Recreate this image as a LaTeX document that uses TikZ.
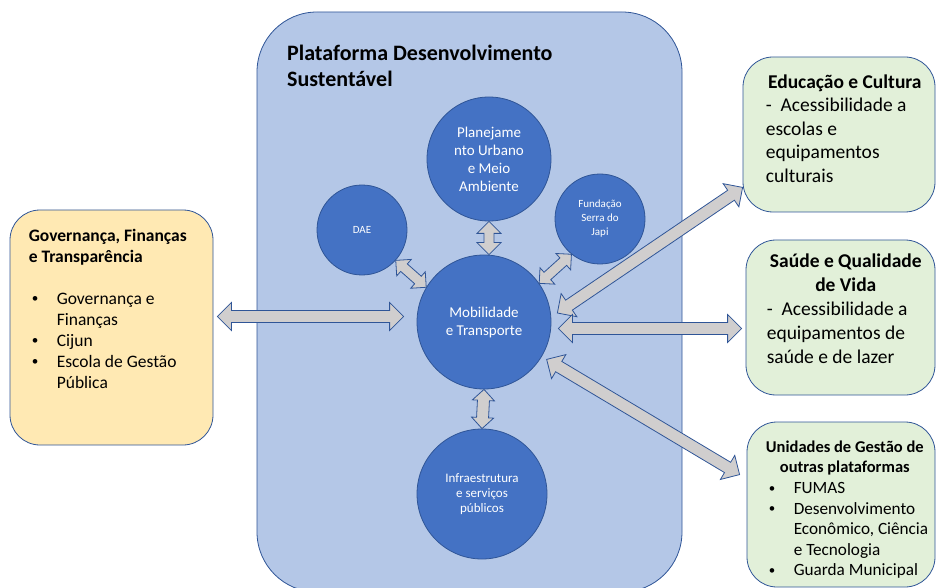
\documentclass[tikz,border=0pt]{standalone}
\usepackage{graphicx}
\usepackage{fontspec}
\setmainfont{Carlito}
\usetikzlibrary{positioning,calc}

\definecolor{platfill}{HTML}{B4C7E7}
\definecolor{circfill}{HTML}{4472C4}
\definecolor{edge}{HTML}{2F5597}
\definecolor{govfill}{HTML}{FFE9B3}
\definecolor{unitfill}{HTML}{E2F0D9}
\definecolor{arrfill}{HTML}{D0CECE}

% bullet lines in the text boxes
\newcommand{\bitem}{\hspace*{3pt}\makebox[25pt][l]{\raisebox{1.2pt}{\scalebox{0.75}{\textbullet}}}}
\newcommand{\bcont}{\hspace*{28pt}}

% double block arrow from #1 to #2, #3 = head half width (and head length), #4 = shaft half width
\newcommand{\dblarrow}[4]{%
  \draw[blockarrow] (#1)
    -- ($(#1)!#3!(#2)!#3!90:(#2)$)
    -- ($(#1)!#3!(#2)!#4!90:(#2)$)
    -- ($(#2)!#3!(#1)!#4!-90:(#1)$)
    -- ($(#2)!#3!(#1)!#3!-90:(#1)$)
    -- (#2)
    -- ($(#2)!#3!(#1)!#3!90:(#1)$)
    -- ($(#2)!#3!(#1)!#4!90:(#1)$)
    -- ($(#1)!#3!(#2)!#4!-90:(#2)$)
    -- ($(#1)!#3!(#2)!#3!-90:(#2)$)
    -- cycle;}

\begin{document}
\begin{tikzpicture}[x=1pt, y=-1pt,
  platform/.style={draw=edge, fill=platfill, line width=0.8pt, rounded corners=60pt},
  box/.style={draw=edge, line width=0.8pt, rounded corners=30pt},
  unit/.style={circle, draw=edge, fill=circfill, line width=0.8pt, text=white, align=center, inner sep=0pt},
  blockarrow/.style={draw=edge, fill=arrfill, line width=0.8pt, line join=miter},
  txt/.style={anchor=north west, inner sep=0pt, align=left}]
  \useasboundingbox (0,0) rectangle (937,588);

  % platform
  \node[platform, minimum width=425, minimum height=580] (plat) at (469.5,302) {};
  \node[txt, font=\bfseries\fontsize{22}{26}\selectfont] (title) at (287,45)
    {Plataforma Desenvolvimento\\Sustentável};

  % side boxes
  \node[box, fill=govfill, minimum width=203, minimum height=235] (gov) at (111.5,327.5) {};
  \node[box, fill=unitfill, minimum width=192, minimum height=155] (edu) at (839,134.5) {};
  \node[box, fill=unitfill, minimum width=189, minimum height=155] (sau) at (840.5,317.5) {};
  \node[box, fill=unitfill, minimum width=188, minimum height=165] (uni) at (841,504.5) {};

  \node[txt, font=\fontsize{17.5}{21}\selectfont] (govText) at ($(gov.north west)+(19,19)$)
    {\textbf{Governança, Finanças}\\\textbf{e Transparência}\\[21pt]
     \bitem Governança e\\\bcont Finanças\\\bitem Cijun\\\bitem Escola de Gestão\\\bcont Pública};
  \node[txt, font=\fontsize{19.5}{23.5}\selectfont] (eduText) at ($(edu.north west)+(23,18)$)
    {\makebox[158pt]{\bfseries Educação e Cultura}\\
     -~~Acessibilidade a\\escolas e\\equipamentos\\culturais};
  \node[txt, font=\fontsize{19.5}{24}\selectfont] (sauText) at ($(sau.north west)+(21,14)$)
    {\makebox[158pt]{\bfseries Saúde e Qualidade}\\\makebox[158pt]{\bfseries de Vida}\\
     -~~Acessibilidade a\\equipamentos de\\saúde e de lazer};
  \node[txt, font=\fontsize{17.2}{20.6}\selectfont] (uniText) at ($(uni.north west)+(19,19)$)
    {\makebox[158pt]{\bfseries\fontsize{16.5}{20}\selectfont Unidades de Gestão de}\\
     \makebox[158pt]{\bfseries\fontsize{16.5}{20}\selectfont outras plataformas}\\
     \bitem FUMAS\\\bitem Desenvolvimento\\\bcont Econômico, Ciência\\\bcont e Tecnologia\\\bitem Guarda Municipal};

  % units inside the platform
  \node[unit, minimum size=124, font=\fontsize{15}{18}\selectfont] (plan) at (489,159) {Planejame\\nto Urbano\\e Meio\\Ambiente};
  \node[unit, minimum size=90, font=\fontsize{11}{13.5}\selectfont] (dae) at (362,230) {DAE};
  \node[unit, minimum size=90, font=\fontsize{11}{14}\selectfont] (fund) at (600,219) {Fundação\\Serra do\\Japi};
  \node[unit, minimum size=134, font=\fontsize{15}{18}\selectfont] (mob) at (484,322) {Mobilidade\\e Transporte};
  \node[unit, minimum size=130, font=\fontsize{13}{15}\selectfont] (infra) at (482,494) {Infraestrutura\\e serviços\\públicos};

  % arrow ends
  \coordinate (govR) at ($(gov.east)+(4,-11)$);
  \coordinate (mobL) at ($(mob.west |- govR)+(-13,0)$);
  \coordinate (eduL) at ($(edu.south west)+(0,-25)$);
  \coordinate (mobE) at ($(mob.east)+(6,-9)$);
  \coordinate (sauL) at ($(sau.west)+(-4,11)$);
  \coordinate (mobS) at ($(mob.east |- sauL)+(7,0)$);
  \coordinate (uniL) at ($(uni.north west)+(-7,53)$);
  \coordinate (mobU) at ($(mob.center)!73pt!(uniL)$);

  % arrows
  \dblarrow{govR}{mobL}{14pt}{6pt}
  \dblarrow{plan.south}{plan.south |- mob.north}{12pt}{5pt}
  \dblarrow{mob.south}{infra.north}{11pt}{6pt}
  \dblarrow{dae.-42}{mob.149}{11pt}{5pt}
  \dblarrow{fund.231}{mob.35}{11pt}{5pt}
  \dblarrow{mobE}{eduL}{14pt}{6pt}
  \dblarrow{mobS}{sauL}{14pt}{6pt}
  \dblarrow{mobU}{uniL}{14pt}{6pt}
\end{tikzpicture}
\end{document}
